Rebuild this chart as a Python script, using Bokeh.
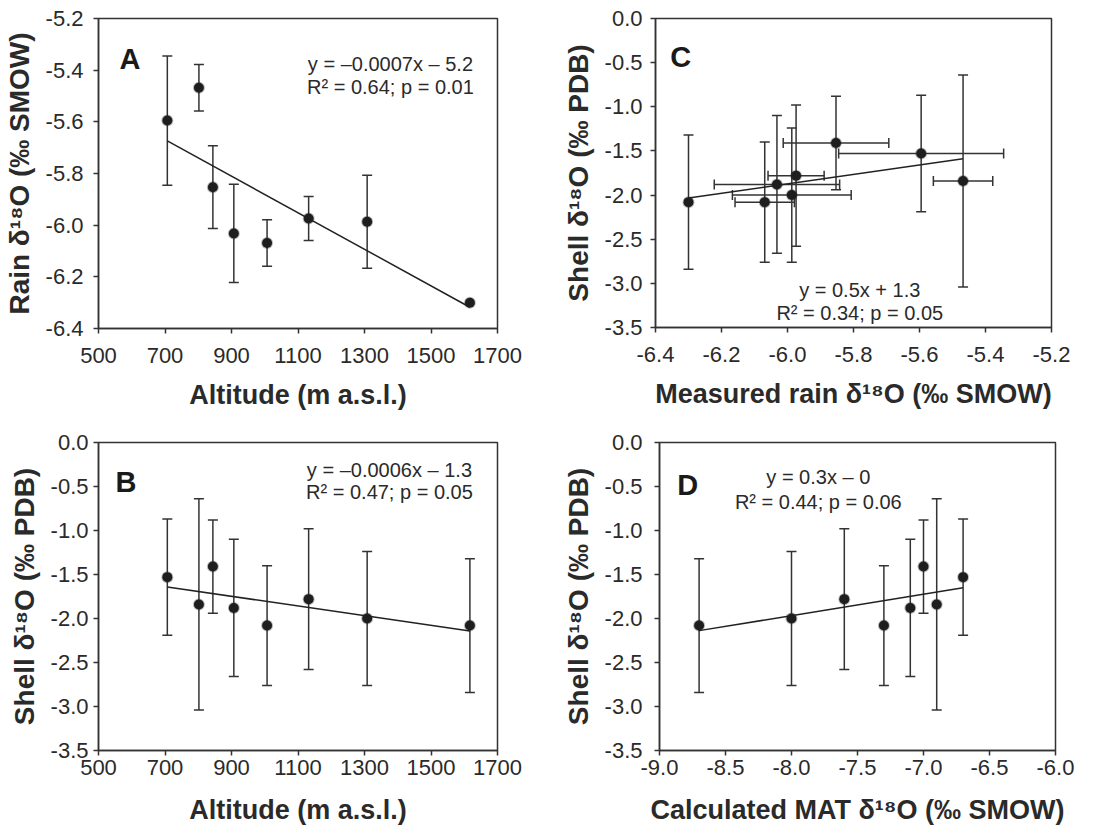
import numpy as np
from bokeh.plotting import figure
from bokeh.models import (Range1d, FixedTicker, NumeralTickFormatter, Whisker, TeeHead,
                          ColumnDataSource, Label)
from bokeh.layouts import column, row
from bokeh.embed import file_html
from bokeh.resources import INLINE

# ---------------- data ----------------
altitude = [707, 802, 844, 907, 1007, 1132, 1308, 1617]          # m a.s.l.
rain = [-5.595, -5.468, -5.853, -6.032, -6.069, -5.974, -5.987, -6.300]
rain_err = [0.25, 0.09, 0.16, 0.19, 0.09, 0.085, 0.18, 0.0]
shell = [-1.53, -1.84, -1.41, -1.88, -2.08, -1.78, -2.00, -2.08]
shell_err = [0.66, 1.20, 0.53, 0.78, 0.68, 0.80, 0.76, 0.76]
mat = [-6.7, -6.9, -7.0, -7.1, -7.3, -7.6, -8.0, -8.7]

alt_ticks = [500, 700, 900, 1100, 1300, 1500, 1700]
rain_ticks = [-6.4, -6.2, -6.0, -5.8, -5.6, -5.4, -5.2]
shell_ticks = [-3.5, -3.0, -2.5, -2.0, -1.5, -1.0, -0.5, 0.0]
mat_ticks = [-9.0, -8.5, -8.0, -7.5, -7.0, -6.5, -6.0]

eq_A = ["y = \u20130.0007x \u2013 5.2", "R\u00b2 = 0.64; p = 0.01"]
eq_B = ["y = \u20130.0006x \u2013 1.3", "R\u00b2 = 0.47; p = 0.05"]
eq_C = ["y = 0.5x + 1.3", "R\u00b2 = 0.34; p = 0.05"]
eq_D = ["y = 0.3x \u2013 0", "R\u00b2 = 0.44; p = 0.06"]

FONT = "Liberation Sans"
INK = "#2a2a2a"
LINE = "#333333"


def make_fig(xr, yr, xticks, yticks, xfmt, yfmt, xlabel, ylabel, borders, fw, fh,
             xstand, ystand, xls, yls):
    l, r, t, b = borders
    p = figure(frame_width=fw, frame_height=fh, x_range=Range1d(*xr), y_range=Range1d(*yr),
               output_backend="svg", toolbar_location=None,
               min_border_left=l, min_border_right=r, min_border_top=t, min_border_bottom=b)
    p.xgrid.visible = False
    p.ygrid.visible = False
    p.outline_line_color = LINE
    p.outline_line_width = 1.5
    p.outline_line_alpha = 1.0
    for ax, ticks, fmt, lab, st, ls, tsize in (
            (p.xaxis[0], xticks, xfmt, xlabel, xstand, xls, "27px"),
            (p.yaxis[0], yticks, yfmt, ylabel, ystand, yls, "28px")):
        ax.ticker = FixedTicker(ticks=ticks)
        ax.formatter = NumeralTickFormatter(format=fmt)
        ax.axis_label = lab
        ax.axis_label_text_font = FONT
        ax.axis_label_text_font_style = "bold"
        ax.axis_label_text_font_size = tsize
        ax.axis_label_text_color = INK
        ax.axis_label_standoff = ls
        ax.major_label_text_font = FONT
        ax.major_label_text_font_size = "22px"
        ax.major_label_text_color = INK
        ax.major_label_standoff = st
        ax.major_tick_in = 0
        ax.major_tick_out = 5
        ax.major_tick_line_color = LINE
        ax.major_tick_line_width = 1.5
        ax.minor_tick_line_color = None
        ax.axis_line_color = LINE
        ax.axis_line_width = 1.5
    return p


def add_points(p, xs, ys):
    p.scatter(xs, ys, size=12, fill_color="#222222", fill_alpha=0.3, line_color=None)
    p.scatter(xs, ys, size=10, fill_color="#1e1e1e", line_color=None)


def _whisker(src, dim):
    return Whisker(source=src, base="base", lower="lower", upper="upper", dimension=dim,
                   line_color=LINE, line_width=1.5,
                   upper_head=TeeHead(size=10, line_color=LINE, line_width=1.5),
                   lower_head=TeeHead(size=10, line_color=LINE, line_width=1.5))


def add_vbars(p, xs, ys, errs):
    idx = [i for i, e in enumerate(errs) if e > 0]
    src = ColumnDataSource(dict(base=[xs[i] for i in idx],
                                lower=[ys[i] - errs[i] for i in idx],
                                upper=[ys[i] + errs[i] for i in idx]))
    p.add_layout(_whisker(src, "height"))


def add_hbars(p, xs, ys, errs):
    idx = [i for i, e in enumerate(errs) if e > 0]
    src = ColumnDataSource(dict(base=[ys[i] for i in idx],
                                lower=[xs[i] - errs[i] for i in idx],
                                upper=[xs[i] + errs[i] for i in idx]))
    p.add_layout(_whisker(src, "width"))


def add_fit(p, xs, ys):
    k, c = np.polyfit(xs, ys, 1)
    x0, x1 = min(xs), max(xs)
    p.line([x0, x1], [k * x0 + c, k * x1 + c], line_color="#222222", line_width=1.5)


def add_text(p, letter, lx, ly, eq, ex, ey1, ey2):
    p.add_layout(Label(x=lx, y=ly, text=letter, text_font=FONT, text_font_style="bold",
                       text_font_size="29px", text_color="#1a1a1a", text_align="left",
                       text_baseline="alphabetic"))
    for txt, yy in zip(eq, (ey1, ey2)):
        p.add_layout(Label(x=ex, y=yy, text=txt, text_font=FONT, text_font_size="20px",
                           text_color=INK, text_align="center", text_baseline="alphabetic"))


rain_title = "Rain \u03b4\u00b9\u2078O (\u2030 SMOW)"
shell_title = "Shell \u03b4\u00b9\u2078O (\u2030 PDB)"
alt_title = "Altitude (m a.s.l.)"
meas_title = "Measured rain \u03b4\u00b9\u2078O (\u2030 SMOW)"
mat_title = "Calculated MAT \u03b4\u00b9\u2078O (\u2030 SMOW)"

# Panel A
pA = make_fig((500, 1700), (-6.4, -5.2), alt_ticks, rain_ticks, "0", "0.0", alt_title, rain_title,
              (98, 56, 18, 83), 399, 310, 14, 10, 14, 8)
add_vbars(pA, altitude, rain, rain_err)
add_fit(pA, altitude, rain)
add_points(pA, altitude, rain)
add_text(pA, "A", 563, -5.355, eq_A, 1378, -5.378, -5.467)

# Panel C
pC = make_fig((-6.4, -5.2), (-3.5, 0.0), rain_ticks, shell_ticks, "0.0", "0.0", meas_title, shell_title,
              (102, 46, 18, 83), 396, 309, 14, 8, 14, 8)
add_vbars(pC, rain, shell, shell_err)
add_hbars(pC, rain, shell, rain_err)
add_fit(pC, rain, shell)
add_points(pC, rain, shell)
add_text(pC, "C", -6.355, -0.431, eq_C, -5.781, -3.073, -3.333)

# Panel B
pB = make_fig((500, 1700), (-3.5, 0.0), alt_ticks, shell_ticks, "0", "0.0", alt_title, shell_title,
              (98, 56, 30, 76), 399, 308, 4, 5, 17, 8)
add_vbars(pB, altitude, shell, shell_err)
add_fit(pB, altitude, shell)
add_points(pB, altitude, shell)
add_text(pB, "B", 551, -0.447, eq_B, 1375, -0.314, -0.564)

# Panel D
pD = make_fig((-9.0, -6.0), (-3.5, 0.0), mat_ticks, shell_ticks, "0.0", "0.0", mat_title, shell_title,
              (106, 42, 30, 76), 396, 308, 4, 12, 17, 8)
add_vbars(pD, mat, shell, shell_err)
add_fit(pD, mat, shell)
add_points(pD, mat, shell)
add_text(pD, "D", -8.866, -0.485, eq_D, -7.797, -0.394, -0.678)

layout = column(row(pA, pC), row(pB, pD))
open("out.html", "w").write(file_html(layout, INLINE))
